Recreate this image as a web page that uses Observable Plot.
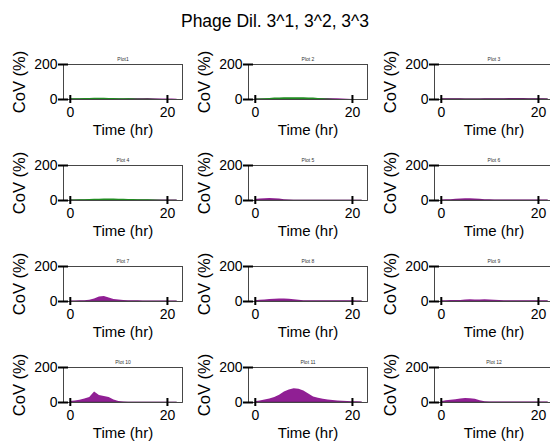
<!DOCTYPE html>
<html><head><meta charset="utf-8">
<script src="https://cdn.jsdelivr.net/npm/d3@7"></script>
<script src="https://cdn.jsdelivr.net/npm/@observablehq/plot@0.6"></script>
<style>
body{margin:0;background:#fff;font-family:"Liberation Sans",Arial,sans-serif;}
#chart{position:relative;width:550px;height:444px;overflow:hidden;background:#fff;}
#title{position:absolute;top:11px;left:0;width:550px;text-align:center;font-size:17.5px;color:#000;}
.panel{position:absolute;}
</style></head><body>
<div id="chart"><div id="title">Phage Dil. 3^1, 3^2, 3^3</div></div>
<script>
// time points (hr)
const times = [0,1,2,3,4,5,6,7,8,9,10,11,12,13,14,15,16,17,18,19,20,21,22];
const panelTitles = ["Plot1","Plot 2","Plot 3","Plot 4","Plot 5","Plot 6","Plot 7","Plot 8","Plot 9","Plot 10","Plot 11","Plot 12"];
const xTicks = [0, 20];
const yTicks = [0, 200];
const xLabel = "Time (hr)";
const yLabel = "CoV (%)";
const seriesNames = ["3^1", "3^2", "3^3"];
const seriesColors = ["#1f8a1f", "#3b2b3b", "#901f94"];

// CoV (%) per panel, series 3^1 (green)
const dil1 = [
  [5,5,5,6,6,7,7,7,6,6,5,5,4,3,0,0,0,0,0,0,0,0,0],
  [2,3,4,6,8,9,10,10,10,10,10,9,8,6,4,2,0,0,0,0,0,0,0],
  [0,0,0,0,0,0,0,0,0,0,0,0,0,0,0,0,0,0,0,0,0,0,0],
  [3,3,4,5,6,7,7,8,8,8,7,7,6,6,5,5,4,3,2,0,0,0,0],
  [0,0,0,0,0,0,0,0,0,0,0,0,0,0,0,0,0,0,0,0,0,0,0],
  [0,0,0,0,0,0,0,0,0,0,0,0,0,0,0,0,0,0,0,0,0,0,0],
  [0,0,0,0,0,0,0,0,0,0,0,0,0,0,0,0,0,0,0,0,0,0,0],
  [0,0,0,0,0,0,0,0,0,0,0,0,0,0,0,0,0,0,0,0,0,0,0],
  [0,0,0,0,0,0,0,0,0,0,0,0,0,0,0,0,0,0,0,0,0,0,0],
  [0,0,0,0,0,0,0,0,0,0,0,0,0,0,0,0,0,0,0,0,0,0,0],
  [0,0,0,0,0,0,0,0,0,0,0,0,0,0,0,0,0,0,0,0,0,0,0],
  [0,0,0,0,0,0,0,0,0,0,0,0,0,0,0,0,0,0,0,0,0,0,0]
];
// series 3^2 (dark)
const dil2 = [
  [3,3,3,3,3,3,3,3,3,3,3,3,4,4,4,4,4,3,2,0,0,0,0],
  [3,3,3,3,3,3,3,3,3,3,3,3,3,3,3,3,2,0,0,0,0,0,0],
  [3,3,3,3,3,3,3,3,3,3,3,3,3,3,3,3,3,3,3,3,3,3,3],
  [3,3,3,3,3,3,3,3,3,3,3,3,3,3,3,3,3,3,3,3,3,3,3],
  [2,2,2,2,2,2,2,2,2,2,2,2,2,2,2,2,2,2,2,2,2,2,2],
  [2,2,2,2,2,2,2,2,2,2,2,2,2,2,2,2,2,2,2,2,2,2,2],
  [2,2,2,2,2,2,2,2,2,2,2,2,2,2,2,2,2,2,2,2,2,2,2],
  [2,2,2,2,2,2,2,2,2,2,2,2,2,2,2,2,2,2,2,2,2,2,2],
  [2,2,2,2,2,2,2,2,2,2,2,2,2,2,2,2,2,2,2,2,2,2,2],
  [2,2,2,2,2,2,2,2,2,2,2,2,2,2,2,2,2,2,2,2,2,2,2],
  [2,2,2,2,2,2,2,2,2,2,2,2,2,2,2,2,2,2,2,2,2,2,2],
  [2,2,2,2,2,2,2,2,2,2,2,2,2,2,2,2,2,2,2,2,2,2,2]
];
// series 3^3 (purple)
const dil3 = [
  [2,2,2,2,2,2,2,2,2,2,2,2,2,2,2,2,3,3,3,3,3,3,2],
  [2,2,2,2,2,3,3,3,3,3,3,3,3,4,4,5,5,4,3,2,0,0,0],
  [4,4,5,5,4,3,3,3,3,4,4,4,5,5,6,6,6,6,5,5,5,4,3],
  [2,2,2,2,2,2,2,2,2,2,2,2,2,2,2,2,2,2,2,2,2,2,2],
  [6,8,10,11,10,8,5,3,2,2,2,2,2,2,2,2,2,2,2,2,2,2,2],
  [3,4,5,7,9,10,10,9,7,5,4,3,3,3,3,3,3,3,3,3,3,3,3],
  [3,3,4,5,7,14,26,28,20,12,8,6,5,4,4,3,3,3,3,3,3,3,3],
  [5,7,9,11,13,15,15,13,10,7,5,4,4,4,4,4,4,4,4,4,4,3,3],
  [4,5,6,6,6,8,10,9,8,10,9,7,6,5,5,5,5,5,5,5,5,4,4],
  [6,9,13,20,28,60,40,35,28,14,6,3,2,2,2,2,2,2,2,2,2,2,2],
  [5,9,14,20,28,42,60,72,78,76,66,48,32,24,18,14,11,9,7,6,5,4,3],
  [5,10,13,16,20,23,22,18,10,5,3,3,3,3,3,3,3,3,3,3,3,3,3]
];

const chart = document.getElementById("chart");
const font = "'Liberation Sans', Arial, sans-serif";
const colLeft = [0, 185, 371];

for (let p = 0; p < 12; p++) {
  const r = Math.floor(p / 3), c = p % 3;
  const series = [dil3[p], dil2[p], dil1[p]];
  const colors = [seriesColors[2], seriesColors[1], seriesColors[0]];
  const areas = series.map((arr, k) =>
    Plot.areaY(times.map((t, i) => ({t, v: arr[i]})), {x: "t", y: "v", fill: colors[k], curve: "linear"})
  );
  const svg = Plot.plot({
    width: 184, height: 89,
    marginLeft: 63, marginRight: 2, marginTop: 14, marginBottom: 40,
    style: {fontFamily: font, background: "transparent", overflow: "visible", color: "#000"},
    x: {domain: [-1.4, 23.1]},
    y: {domain: [0, 200]},
    marks: [
      ...areas,
      Plot.frame({stroke: "#333", strokeWidth: 0.9}),
      Plot.axisX({ticks: xTicks, tickSize: 0, tickPadding: 8, fontSize: 14, label: null}),
      Plot.axisY({ticks: yTicks, tickSize: 0, tickPadding: 6, fontSize: 14, label: null}),
      Plot.ruleX(xTicks, {stroke: "#000", strokeWidth: 2, insetTop: 27, dy: 4}),
      Plot.ruleY(yTicks, {stroke: "#000", strokeWidth: 2, insetRight: 109, dx: -5}),
      Plot.text([panelTitles[p]], {text: d => d, frameAnchor: "top", dy: -7, fontSize: 5, fill: "#333"}),
      Plot.text([xLabel], {text: d => d, frameAnchor: "bottom", dy: 35, fontSize: 15, fill: "#000"}),
      Plot.text([yLabel], {text: d => d, frameAnchor: "left", textAnchor: "middle", lineAnchor: "middle", dx: -44, rotate: -90, fontSize: 16.5, fill: "#000"})
    ]
  });
  svg.classList.add("panel");
  svg.style.position = "absolute";
  svg.style.left = colLeft[c] + "px";
  svg.style.top = (50 + r * 101) + "px";
  chart.appendChild(svg);
}
</script>
</body></html>
